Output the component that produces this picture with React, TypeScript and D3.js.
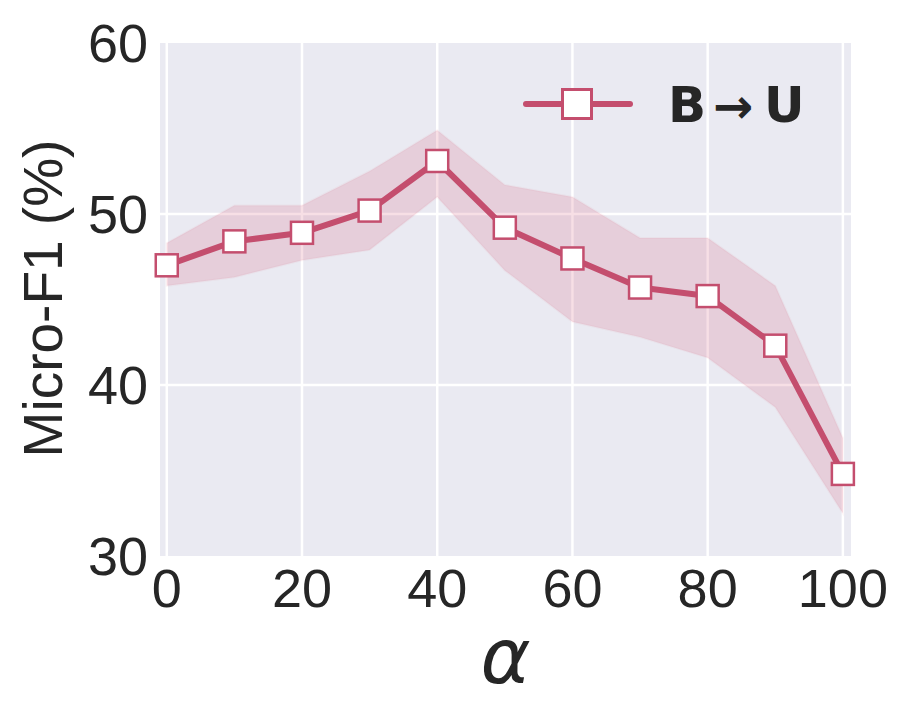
import React from "react";
import * as d3 from "d3";

const alphas = [0, 10, 20, 30, 40, 50, 60, 70, 80, 90, 100];
const meanF1 = [47.0, 48.4, 48.9, 50.2, 53.1, 49.2, 47.4, 45.7, 45.2, 42.3, 34.8];
const upperF1 = [48.3, 50.5, 50.5, 52.5, 54.9, 51.7, 51.0, 48.6, 48.6, 45.8, 36.9];
const lowerF1 = [45.8, 46.3, 47.3, 47.9, 51.0, 46.7, 43.7, 42.8, 41.6, 38.7, 32.5];
const xTicks = [0, 20, 40, 60, 80, 100];
const yTicks = [30, 40, 50, 60];
const legendParts = ["B", "→", "U"];

const W = 913;
const H = 722;
const plot = { left: 160, right: 851, top: 43, bottom: 556 };
const color = "#C44E6E";

export default function App() {
  const x = d3.scaleLinear().domain([-1.0, 101.2]).range([plot.left, plot.right]);
  const y = d3.scaleLinear().domain([30, 60]).range([plot.bottom, plot.top]);

  const pts = alphas.map((a, i) => ({ a, m: meanF1[i], u: upperF1[i], l: lowerF1[i] }));
  const area = d3
    .area<any>()
    .x((d) => x(d.a))
    .y0((d) => y(d.l))
    .y1((d) => y(d.u));
  const line = d3
    .line<any>()
    .x((d) => x(d.a))
    .y((d) => y(d.m));

  const ms = 22;
  const lms = 29;
  const tickFont = "'Liberation Sans', Arial, sans-serif";

  return (
    <svg
      width={W}
      height={H}
      style={{ position: "absolute", left: 0, top: 0, background: "#fff" }}
    >
      <rect
        x={plot.left}
        y={plot.top}
        width={plot.right - plot.left}
        height={plot.bottom - plot.top}
        fill="#EAEAF2"
      />
      {xTicks.map((t) => (
        <line
          key={"gx" + t}
          x1={x(t)}
          x2={x(t)}
          y1={plot.top}
          y2={plot.bottom}
          stroke="#fff"
          strokeWidth={2.5}
        />
      ))}
      {yTicks
        .filter((t) => t > 30 && t < 60)
        .map((t) => (
          <line
            key={"gy" + t}
            x1={plot.left}
            x2={plot.right}
            y1={y(t)}
            y2={y(t)}
            stroke="#fff"
            strokeWidth={2.5}
          />
        ))}
      <path
        d={area(pts) || ""}
        fill="#D8607F"
        fillOpacity={0.2}
        stroke="#D8607F"
        strokeOpacity={0.06}
        strokeWidth={2}
      />
      <path d={line(pts) || ""} fill="none" stroke={color} strokeWidth={6} strokeLinejoin="round" />
      {pts.map((d) => (
        <rect
          key={"m" + d.a}
          x={x(d.a) - ms / 2}
          y={y(d.m) - ms / 2}
          width={ms}
          height={ms}
          fill="#fff"
          stroke={color}
          strokeWidth={2.5}
        />
      ))}
      {xTicks.map((t) => (
        <text
          key={"tx" + t}
          x={x(t)}
          y={607}
          textAnchor="middle"
          fontFamily={tickFont}
          fontSize={54}
          fill="#262626"
        >
          {t}
        </text>
      ))}
      {yTicks.map((t) => (
        <text
          key={"ty" + t}
          x={148}
          y={y(t)}
          dy="0.36em"
          textAnchor="end"
          fontFamily={tickFont}
          fontSize={54}
          fill="#262626"
        >
          {t}
        </text>
      ))}
      <text
        transform={`translate(62, ${(plot.top + plot.bottom) / 2 - 1}) rotate(-90)`}
        textAnchor="middle"
        fontFamily={tickFont}
        fontSize={55}
        fill="#262626"
      >
        Micro-F1 (%)
      </text>
      <text
        x={(plot.left + plot.right) / 2}
        y={683}
        textAnchor="middle"
        fontFamily="'DejaVu Sans', sans-serif"
        fontStyle="italic"
        fontSize={76}
        fill="#262626"
      >
        α
      </text>
      <line x1={526} x2={630} y1={104} y2={104} stroke={color} strokeWidth={6} strokeLinecap="round" />
      <rect
        x={577 - lms / 2}
        y={104 - lms / 2}
        width={lms}
        height={lms}
        fill="#fff"
        stroke={color}
        strokeWidth={3}
      />
      <text
        y={122}
        fontFamily="'DejaVu Sans', sans-serif"
        fontWeight="bold"
        fontSize={50}
        fill="#262626"
      >
        <tspan x={668}>{legendParts[0]}</tspan>
        <tspan x={713} fontSize={48} dy={1}>{legendParts[1]}</tspan>
        <tspan x={764} dy={-1}>{legendParts[2]}</tspan>
      </text>
    </svg>
  );
}
